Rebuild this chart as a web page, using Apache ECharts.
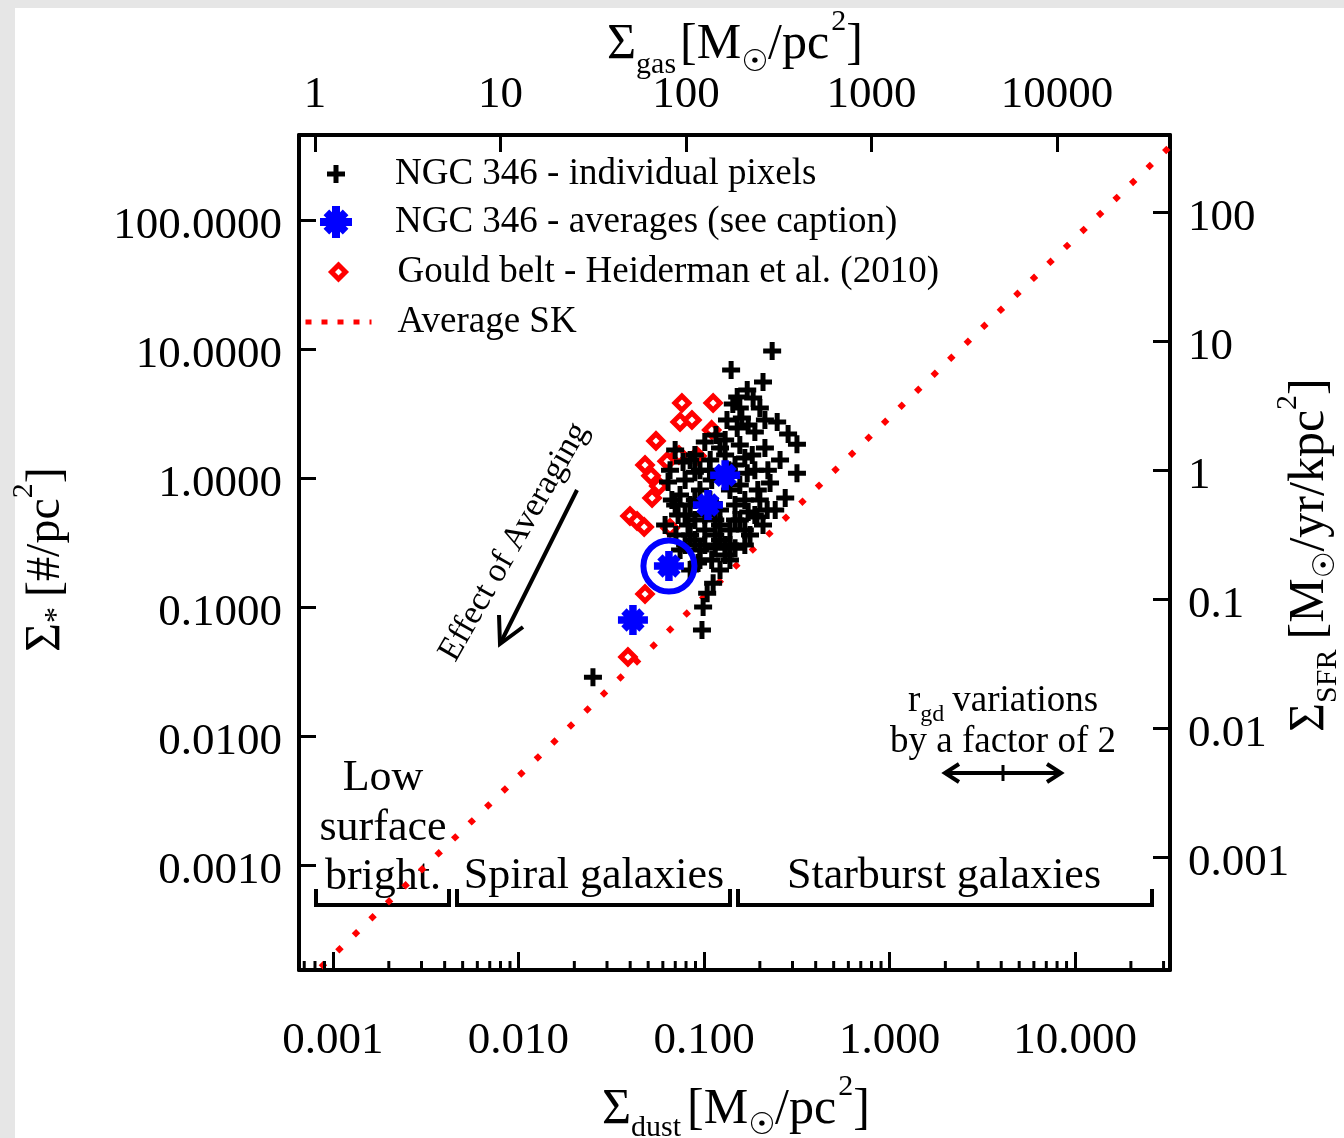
<!DOCTYPE html>
<html><head><meta charset="utf-8">
<script src="https://cdn.jsdelivr.net/npm/echarts@6/dist/echarts.min.js"></script>
<style>html,body{margin:0;padding:0;background:#fff}#c{width:1344px;height:1138px}</style>
</head><body><div id="c"></div><script>
// ---------------- DATA ----------------
// [Sigma_dust (Msun/pc^2), Sigma_* (#/pc^2)]
const ngcPixels = [
 [0.233,9.65],[0.140,6.87],[0.208,5.55],[0.171,4.81],[0.151,4.25],[0.184,4.17],[0.143,3.75],[0.156,3.49],
 [0.200,3.49],[0.160,2.92],[0.151,2.44],[0.248,2.72],[0.284,2.19],[0.317,1.83],[0.317,1.09],[0.221,1.15],
 [0.227,0.915],[0.274,0.700],[0.219,0.565],[0.193,0.499],[0.208,0.432],[0.171,1.09],[0.112,0.153],[0.104,0.128],
 [0.0989,0.100],[0.0975,0.0664],[0.0252,0.0286],[0.116,2.15],[0.101,1.90],[0.130,1.97],[0.0842,1.38],[0.0656,1.15],
 [0.0951,1.15],[0.156,1.80],[0.182,1.51],[0.257,1.38],[0.195,0.807],[0.166,0.675],[0.110,0.231],[0.130,0.253],
 [0.147,0.286],[0.0929,0.219],[0.0699,1.65],[0.0791,0.965],[0.0743,0.738],[0.0842,0.618],[0.0725,0.517],[0.0820,0.432],
 [0.0893,0.331],[0.101,0.395],[0.115,0.472],[0.122,0.331],[0.138,0.395],[0.156,0.472],[0.147,0.618],[0.177,0.361],
 [0.0951,0.807],[0.110,0.965],[0.156,0.883],[0.188,1.15],[0.0893,1.51],[0.108,1.38],[0.130,1.51],[0.147,1.26],
 [0.166,1.43],[0.213,1.71],[0.122,0.565],[0.101,0.517],[0.0893,0.472],[0.0791,0.303],[0.0951,0.277],[0.115,0.286],
 [0.138,0.231],[0.166,0.303],[0.188,0.517],[0.0842,0.194],[0.122,0.194],[0.0771,1.33],[0.0640,0.931],[0.0671,0.675],
 [0.0617,0.432],[0.0706,0.361],[0.138,0.807],[0.200,0.675],[0.173,0.545],[0.242,0.565],[0.107,1.15],[0.136,1.15],
 [0.188,2.27],[0.213,2.82],[0.173,2.58],[0.133,2.82],[0.122,1.71],[0.0893,1.11],
 [0.0699,0.618],[0.0791,0.517],[0.0893,0.675],[0.101,0.303],[0.115,0.361],[0.130,0.303],[0.147,0.472],[0.0951,0.231],
 [0.0842,0.361],[0.1076,0.675],[0.0743,0.277],[0.122,0.432],[0.138,0.303],[0.166,0.395]
];
const ngcAverages = [[0.130,1.05],[0.105,0.618],[0.0647,0.208],[0.0414,0.0793]];
const circledAverage = [[0.0647,0.208]];
const gouldBelt = [
 [0.0760,3.81],[0.112,3.81],[0.0743,2.72],[0.0861,2.82],[0.110,2.36],[0.0551,1.94],[0.0481,1.26],[0.0633,1.35],
 [0.0733,1.51],[0.0518,1.04],[0.0571,0.867],[0.0525,0.700],[0.0399,0.508],[0.0436,0.464],[0.0476,0.417],
 [0.0481,0.126],[0.0389,0.0410],[0.0916,1.48],[0.0656,0.41]
];
const averageSK = [[0.0007,0.000121],[40,497]];
// axis extents / conversions
const dustRange = [6.56e-4, 32.5];
const starRange = [1.535e-4, 456];
const gasToDust = 1250;      // Sigma_gas = 1250 * Sigma_dust
const sfrPerStar = 0.867;    // Sigma_SFR = 0.867 * Sigma_*
const minorMultipliers = [2,3,4,5,6,7,8,9];
const minorDecades = [-4,-3,-2,-1,0,1];
const legendNames = ['NGC 346 - individual pixels','NGC 346 - averages (see caption)','Gould belt - Heiderman et al. (2010)','Average SK'];

// ---------------- HELPERS ----------------
const FONT = '"Liberation Serif", "DejaVu Serif", "DejaVu Sans", serif';
const mctx = document.createElement('canvas').getContext('2d');
function tw(t, s){ mctx.font = s + 'px ' + FONT; return mctx.measureText(t).width; }
function txt(t, s, x, y, extra){
  return Object.assign({type:'text', x:x, y:y, style:{text:t, font:s+'px '+FONT, fill:'#000',
    align:'center', verticalAlign:'middle', textAlign:'center', textVerticalAlign:'middle'}}, extra||{});
}
function row(parts, x, y, rot, align){
  let total = 0;
  parts.forEach(p => { p.w = tw(p.t, p.s); total += p.w + (p.gap||0); });
  let cx = align === 'center' ? -total/2 : 0;
  const children = parts.map(p => {
    cx += (p.gap||0);
    const el = {type:'text', x:cx, y:(p.dy||0), style:{text:p.t, font:p.s+'px '+FONT, fill:'#000',
      align:'left', verticalAlign:'middle', textAlign:'left', textVerticalAlign:'middle'}};
    cx += p.w;
    return el;
  });
  return {type:'group', x:x, y:y, rotation:rot||0, children:children};
}
function dec(v){ const e = Math.log10(v); const r = Math.round(e); return Math.abs(e-r) < 1e-6 ? r : null; }
const minorTicks = [];
minorDecades.forEach(d => minorMultipliers.forEach(m => {
  const v = m*Math.pow(10,d); if (v > dustRange[0] && v < dustRange[1]) minorTicks.push([v, starRange[0]]);
}));

const plusSym = 'path://M6.5,0H11.5V6.5H18V11.5H11.5V18H6.5V11.5H0V6.5H6.5Z';
const astSym = 'path://M7.5,0H12.5V7.5H20V12.5H12.5V20H7.5V12.5H0V7.5H7.5Z' +
  'M5.76,2.22L17.78,14.24L14.24,17.78L2.22,5.76Z' +
  'M14.24,2.22L17.78,5.76L5.76,17.78L2.22,14.24Z';

const lineCommon = {show:true, lineStyle:{color:'#000', width:4}, onZero:false};
const tickCommon = {show:true, inside:true, length:17, lineStyle:{color:'#000', width:3}};
const labelCommon = {color:'#000', fontFamily:FONT, fontSize:45, interval:0};
const shiftRich = {p:{color:'#000', fontFamily:FONT, fontSize:45, padding:[12,0,0,0]}};

const chart = echarts.init(document.getElementById('c'), null, {renderer:'canvas'});
chart.setOption({
  animation:false,
  backgroundColor:'#ffffff',
  grid:{left:299, top:135, width:871, height:835, containLabel:false, outerBoundsMode:'none'},
  xAxis:[
    {type:'log', logBase:10, position:'bottom', min:dustRange[0], max:dustRange[1],
     axisLine:lineCommon, axisTick:Object.assign({}, tickCommon, {length:18}), splitLine:{show:false},
     axisLabel:Object.assign({}, labelCommon, {margin:49, formatter:v => { const e = dec(v); return e===null ? '' : Math.pow(10,e).toFixed(3); }})},
    {type:'log', logBase:10, position:'top', min:dustRange[0]*gasToDust, max:dustRange[1]*gasToDust,
     axisLine:lineCommon, axisTick:tickCommon, splitLine:{show:false},
     axisLabel:Object.assign({}, labelCommon, {margin:17, formatter:v => { const e = dec(v); return e===null ? '' : String(Math.round(Math.pow(10,e))); }})}
  ],
  yAxis:[
    {type:'log', logBase:10, position:'left', min:starRange[0], max:starRange[1],
     axisLine:lineCommon, axisTick:tickCommon, splitLine:{show:false},
     axisLabel:Object.assign({}, labelCommon, {margin:17, rich:shiftRich, formatter:v => { const e = dec(v); return e===null ? '' : '{p|' + Math.pow(10,e).toFixed(4) + '}'; }})},
    {type:'log', logBase:10, position:'right', min:starRange[0]*sfrPerStar, max:starRange[1]*sfrPerStar,
     axisLine:lineCommon, axisTick:tickCommon, splitLine:{show:false},
     axisLabel:Object.assign({}, labelCommon, {margin:18, rich:shiftRich, formatter:v => { const e = dec(v); if (e===null) return ''; return '{p|' + (e<0 ? Math.pow(10,e).toFixed(-e) : String(Math.round(Math.pow(10,e)))) + '}'; }})}
  ],
  legend:[
    {data:[legendNames[0]], left:327, top:154, itemWidth:18, itemHeight:18, padding:0, selectedMode:false,
     itemStyle:{opacity:1},
     textStyle:{fontFamily:FONT, fontSize:37, color:'#000', lineHeight:40, padding:[0,0,0,45]}},
    {data:[legendNames[1]], left:320, top:202, itemWidth:32, itemHeight:32, padding:0, selectedMode:false,
     itemStyle:{opacity:1},
     textStyle:{fontFamily:FONT, fontSize:37, color:'#000', lineHeight:40, padding:[0,0,0,38]}},
    {data:[{name:legendNames[2], itemStyle:{color:'#ffffff', borderColor:'#ff0000', borderWidth:5, opacity:1}}], left:329, top:252, itemWidth:14, itemHeight:14, padding:0, selectedMode:false,
     textStyle:{fontFamily:FONT, fontSize:37, color:'#000', lineHeight:40, padding:[0,0,0,47]}},
    {data:[{name:legendNames[3], itemStyle:{opacity:0}}], left:303, top:302, itemWidth:66, itemHeight:10, padding:0, selectedMode:false,
     lineStyle:{width:5, color:'#ff0000', type:[6,10], opacity:1},
     textStyle:{fontFamily:FONT, fontSize:37, color:'#000', lineHeight:40, padding:[0,0,0,21]}}
  ],
  series:[
    {name:legendNames[3], type:'line', data:averageSK, symbol:'none', z:1, clip:true,
     lineStyle:{color:'#ff0000', width:6, type:[6,17], opacity:1}},
    {name:legendNames[2], type:'scatter', data:gouldBelt, symbol:'diamond', symbolSize:14, z:2,
     itemStyle:{color:'#ffffff', borderColor:'#ff0000', borderWidth:5, opacity:1}},
    {name:legendNames[0], type:'scatter', data:ngcPixels, symbol:plusSym, symbolSize:18, z:3,
     itemStyle:{color:'#000000', opacity:1}},
    {name:legendNames[1], type:'scatter', data:ngcAverages, symbol:astSym, symbolSize:30, z:4,
     itemStyle:{color:'#0000ff', opacity:1}},
    {name:'circled', type:'scatter', data:circledAverage, symbol:'circle', symbolSize:51, z:4,
     itemStyle:{color:'rgba(0,0,0,0)', borderColor:'#0000ff', borderWidth:6, opacity:1}},
    {name:'minorTicks', type:'custom', data:minorTicks, silent:true, clip:false, z:10,
     renderItem:(params, api) => {
       const p = api.coord([api.value(0), api.value(1)]);
       return {type:'line', shape:{x1:p[0], y1:p[1], x2:p[0], y2:p[1]-9}, style:{stroke:'#000', lineWidth:3}};
     }}
  ],
  graphic:[
    {type:'rect', shape:{x:0, y:0, width:15, height:1138}, style:{fill:'#e6e6e6'}, z:-10},
    {type:'rect', shape:{x:0, y:0, width:1344, height:8}, style:{fill:'#e6e6e6'}, z:-10},
    // axis titles
    row([{t:'Σ',s:50},{t:'gas',s:30,dy:20},{t:'[M',s:50,gap:4},{t:'☉',s:30,dy:18},{t:'/pc',s:50},{t:'2',s:30,dy:-23,gap:2},{t:']',s:50}], 607, 45, 0),
    row([{t:'Σ',s:50},{t:'dust',s:30,dy:18},{t:'[M',s:50,gap:6},{t:'☉',s:30,dy:16},{t:'/pc',s:50},{t:'2',s:30,dy:-23,gap:2},{t:']',s:50}], 602, 1110, 0),
    row([{t:'Σ',s:50},{t:'*',s:32,dy:12},{t:'[#/pc',s:48,gap:10},{t:'2',s:30,dy:-22},{t:']',s:48}], 46, 652, Math.PI/2),
    row([{t:'Σ',s:50},{t:'SFR',s:30,dy:18},{t:'[M',s:50,gap:10},{t:'☉',s:30,dy:16},{t:'/yr/kpc',s:50},{t:'2',s:30,dy:-22},{t:']',s:50}], 1310, 732, Math.PI/2),
    // Effect of averaging
    txt('Effect of Averaging', 34, 514, 542, {rotation:1.052}),
    {type:'polyline', shape:{points:[[577,490],[501,642]]}, style:{stroke:'#000', lineWidth:4, fill:null}},
    {type:'polyline', shape:{points:[[523,627],[500,644],[499,615]]}, style:{stroke:'#000', lineWidth:4, fill:null, lineJoin:'miter'}},
    // r_gd
    row([{t:'r',s:37},{t:'gd',s:24,dy:14},{t:'variations',s:37,gap:8}], 1003, 701, 0, 'center'),
    txt('by a factor of 2', 37, 1003, 742),
    {type:'polyline', shape:{points:[[946,773],[1060,773]]}, style:{stroke:'#000', lineWidth:4, fill:null}},
    {type:'polyline', shape:{points:[[959,764],[945,773],[959,782]]}, style:{stroke:'#000', lineWidth:4, fill:null}},
    {type:'polyline', shape:{points:[[1047,764],[1061,773],[1047,782]]}, style:{stroke:'#000', lineWidth:4, fill:null}},
    {type:'polyline', shape:{points:[[1003,765],[1003,781]]}, style:{stroke:'#000', lineWidth:3, fill:null}},
    // regimes
    txt('Low', 44, 383, 778), txt('surface', 44, 383, 828), txt('bright.', 44, 383, 877),
    txt('Spiral galaxies', 44, 594, 876), txt('Starburst galaxies', 44, 944, 876),
    {type:'polyline', shape:{points:[[316,889],[316,905],[449,905],[449,889]]}, style:{stroke:'#000', lineWidth:4, fill:null}},
    {type:'polyline', shape:{points:[[457,889],[457,905],[730,905],[730,889]]}, style:{stroke:'#000', lineWidth:4, fill:null}},
    {type:'polyline', shape:{points:[[738,889],[738,905],[1152,905],[1152,889]]}, style:{stroke:'#000', lineWidth:4, fill:null}}
  ]
});
</script></body></html>
